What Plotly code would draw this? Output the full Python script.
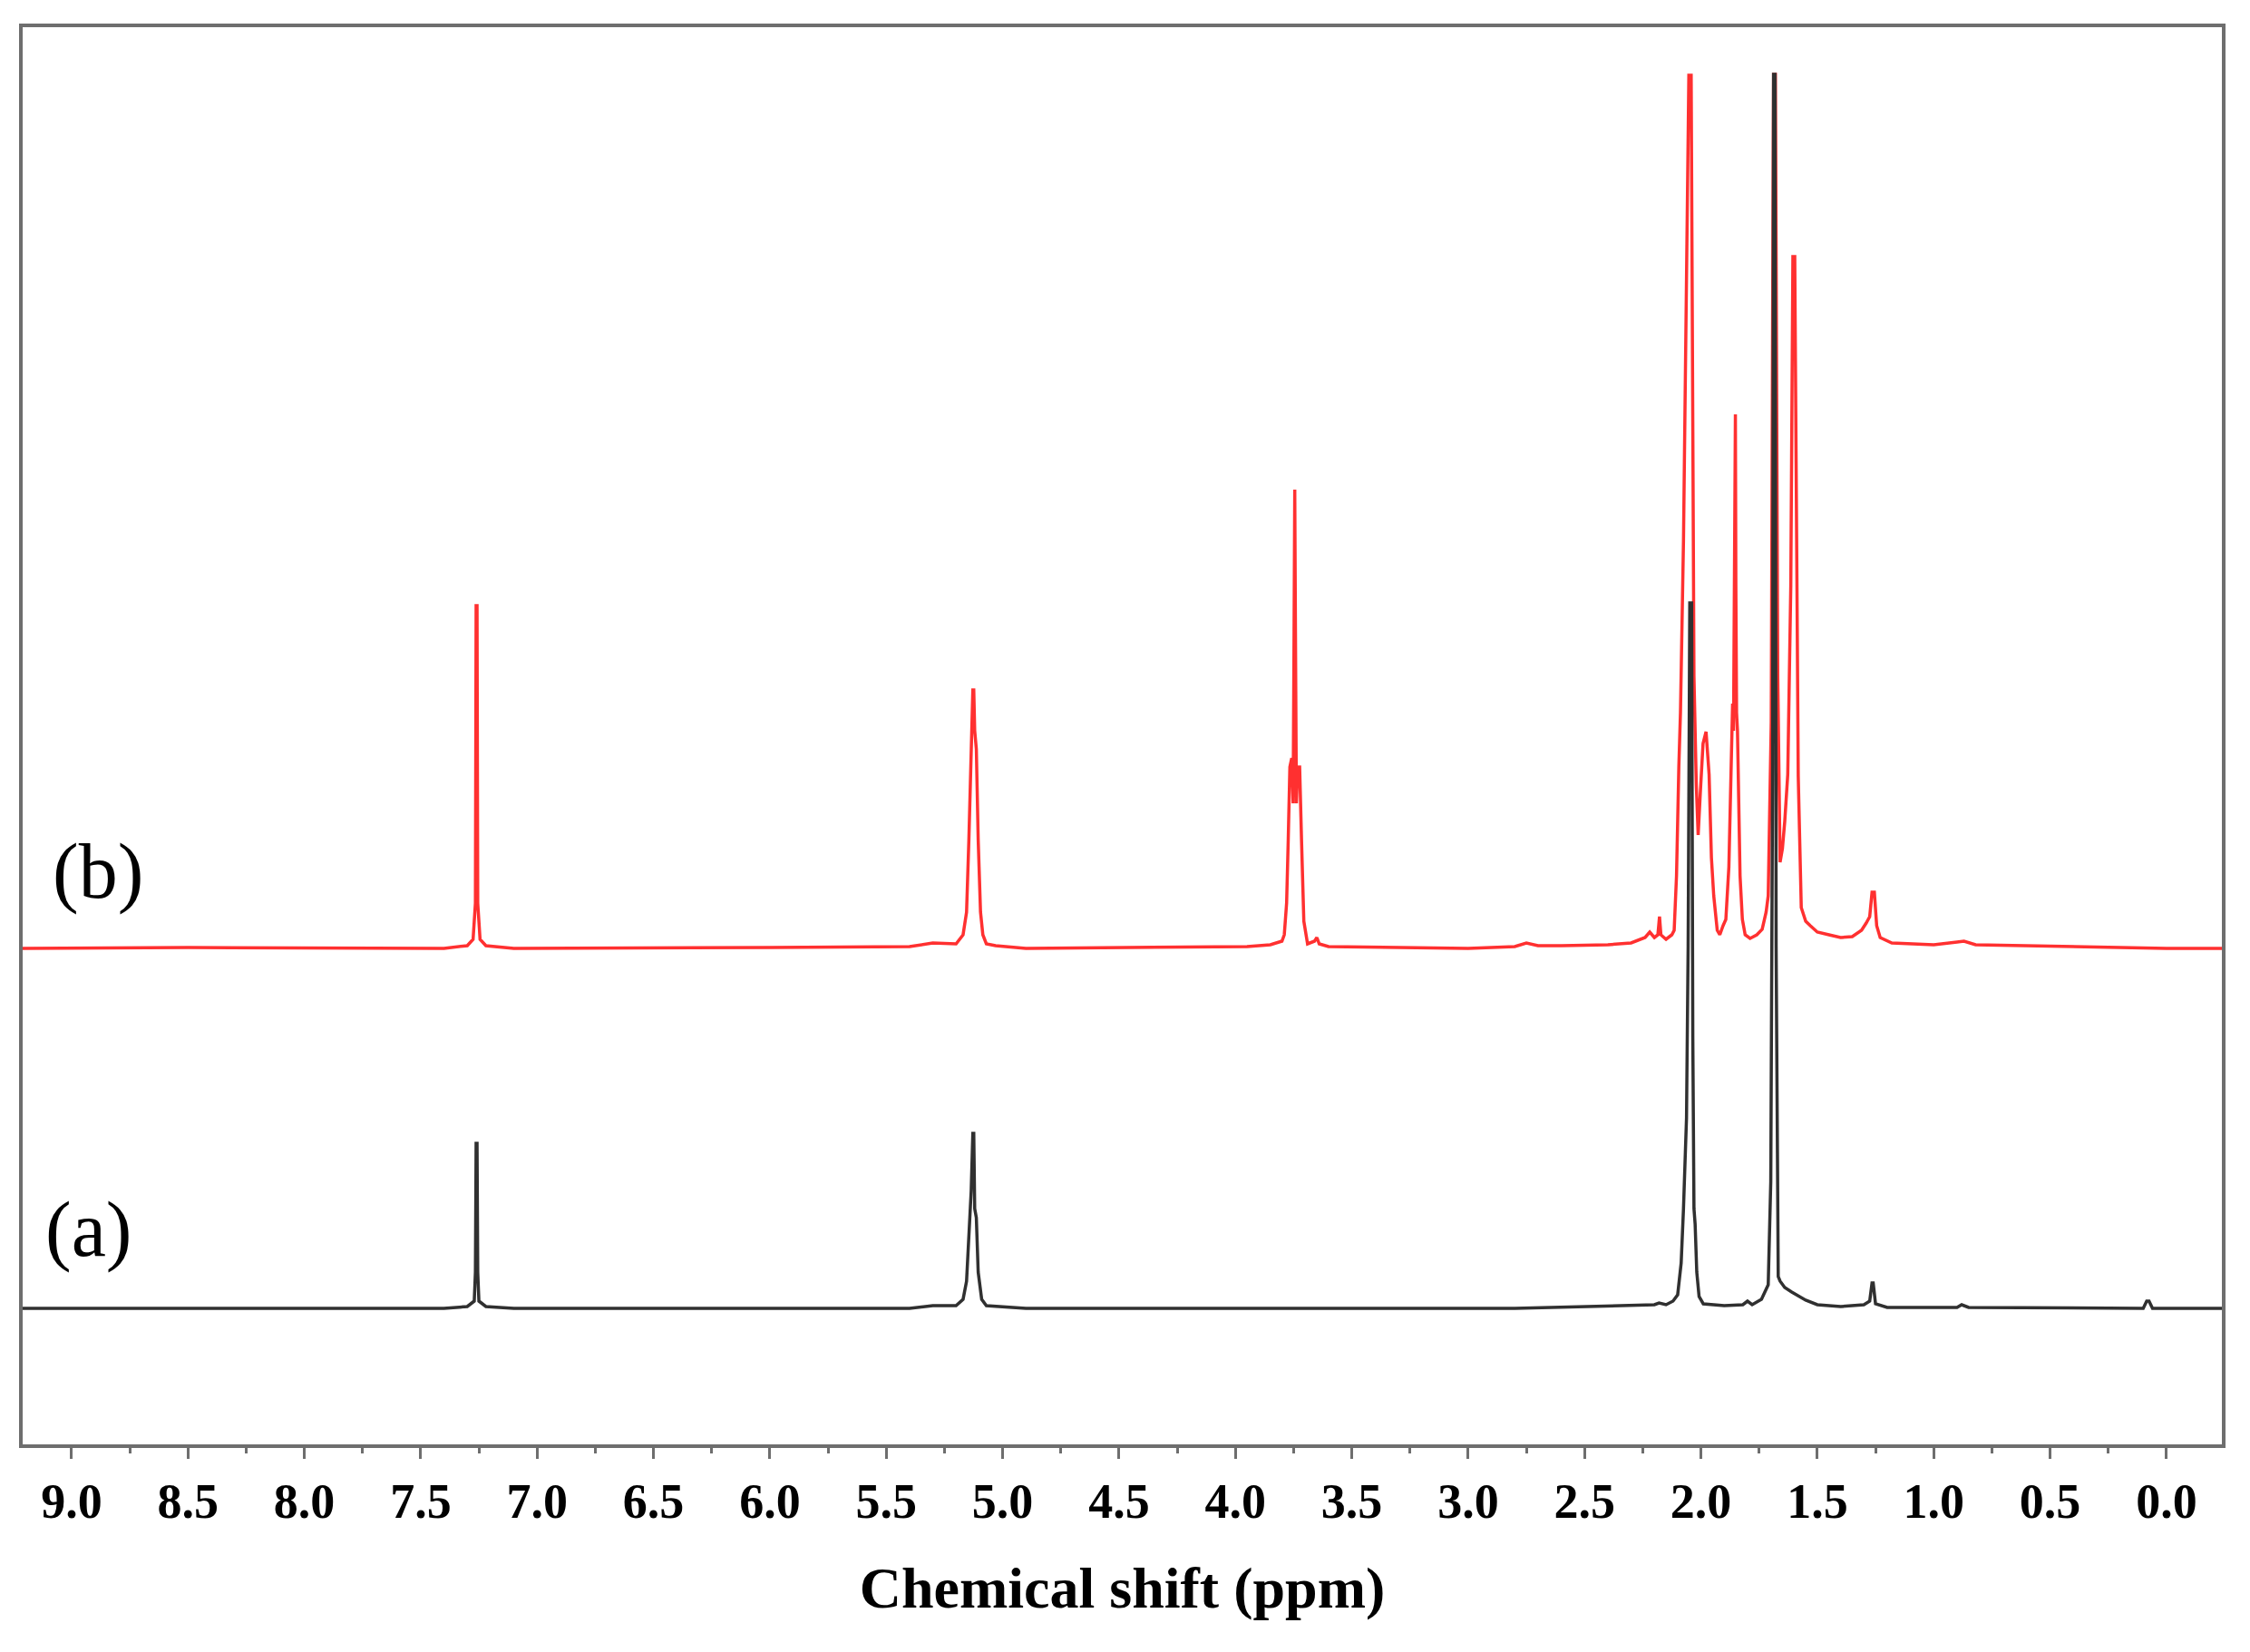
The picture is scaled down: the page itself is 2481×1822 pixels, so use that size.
import plotly.graph_objects as go

# spectrum (b) - red (ppm, intensity above its baseline)
ppm_b = [9.21, 8.50, 7.40, 7.30, 7.275, 7.265, 7.262, 7.258, 7.255, 7.245, 7.22, 7.10,
         6.00, 5.40, 5.30, 5.20, 5.17, 5.155, 5.145, 5.135, 5.128, 5.124, 5.12, 5.113,
         5.105, 5.095, 5.085, 5.07, 5.03, 4.90, 3.95, 3.85, 3.80, 3.79, 3.78, 3.773,
         3.766, 3.758, 3.752, 3.748, 3.745, 3.742, 3.738, 3.732, 3.724, 3.716, 3.706, 3.69,
         3.66, 3.65, 3.64, 3.60, 3.00, 2.80, 2.75, 2.70, 2.60, 2.40, 2.30, 2.24, 2.22,
         2.20, 2.185, 2.178, 2.172, 2.15, 2.125, 2.115, 2.105, 2.095, 2.088, 2.075,
         2.062, 2.052, 2.042, 2.036, 2.03, 2.02, 2.012, 2.003, 1.991, 1.978, 1.965,
         1.955, 1.945, 1.93, 1.919, 1.905, 1.893, 1.880, 1.870, 1.864, 1.860, 1.857,
         1.855, 1.852, 1.850, 1.847, 1.843, 1.838, 1.832, 1.822, 1.81, 1.789, 1.76,
         1.737, 1.72, 1.711, 1.698, 1.692, 1.688, 1.680, 1.670, 1.660, 1.650, 1.640,
         1.627, 1.614, 1.605, 1.597, 1.588, 1.582, 1.569, 1.55, 1.53, 1.50, 1.45, 1.40,
         1.35, 1.31, 1.29, 1.275, 1.265, 1.255, 1.245, 1.23, 1.18, 1.00, 0.90, 0.87,
         0.82, 0.50, 0.20, 0.00, -0.24]
int_b = [0, 0.1, 0, 0.3, 1.0, 5, 37.8, 37.8, 5, 1.0, 0.3, 0,
         0.1, 0.2, 0.6, 0.5, 1.5, 4, 12, 24, 28.5, 28.5, 24, 22,
         12, 4, 1.5, 0.5, 0.3, 0, 0.2, 0.4, 0.8, 1.5, 5, 12,
         20, 21, 16, 35, 50.6, 35, 16, 20, 20, 12, 3, 0.5,
         0.8, 1.2, 0.5, 0.2, 0, 0.2, 0.6, 0.3, 0.3, 0.4, 0.6, 1.2, 1.8,
         1.2, 1.5, 3.5, 1.5, 1.0, 1.5, 2, 8, 20, 26, 45,
         75, 96.3, 96.3, 60, 30, 18, 12.5, 17, 22.6, 23.9, 19.2,
         10, 5.8, 2, 1.5, 2.5, 3.2, 9, 22, 27, 24, 45,
         58.9, 58.9, 40, 26, 24, 15, 8, 3.2, 1.5, 1.1, 1.5,
         2.1, 4, 5.8, 25, 70, 96.4, 96.4, 30, 9.5, 11, 14,
         19.2, 40, 76.3, 76.3, 40, 19, 4.5, 3, 2.5, 1.8, 1.5, 1.2,
         1.3, 2.0, 2.8, 3.5, 6.2, 6.2, 2.5, 1.2, 0.6, 0.4, 0.7, 0.8,
         0.4, 0.2, 0.1, 0, 0]

# spectrum (a) - black
ppm_a = [9.21, 7.40, 7.30, 7.27, 7.265, 7.262, 7.258, 7.255, 7.25, 7.22, 7.10,
         5.40, 5.30, 5.20, 5.17, 5.155, 5.145, 5.135, 5.128, 5.124, 5.12, 5.113,
         5.105, 5.09, 5.07, 4.90, 2.80, 2.30, 2.20, 2.18, 2.15, 2.12, 2.10, 2.085,
         2.075, 2.062, 2.055, 2.048, 2.040, 2.035, 2.03, 2.025, 2.018, 2.008, 1.99,
         1.90, 1.82, 1.80, 1.78, 1.74, 1.72, 1.711, 1.70, 1.692, 1.688, 1.682, 1.677,
         1.672, 1.668, 1.66, 1.64, 1.61, 1.58, 1.55, 1.50, 1.40, 1.30, 1.275, 1.265,
         1.26, 1.25, 1.20, 0.90, 0.88, 0.85, 0.10, 0.085, 0.075, 0.06, -0.24]
int_a = [0, 0, 0.2, 0.8, 4, 18.2, 18.2, 4, 0.8, 0.2, 0,
         0, 0.3, 0.3, 1, 3, 8, 13, 19.3, 19.3, 11, 10,
         4, 1, 0.3, 0, 0, 0.3, 0.4, 0.6, 0.4, 0.8, 1.5, 5,
         11, 21, 40, 77.8, 77.8, 30, 11, 9.3, 4, 1.3, 0.5,
         0.3, 0.4, 0.8, 0.4, 1, 2, 2.6, 14, 60, 136.1, 136.1, 40,
         8, 3.5, 3, 2.3, 1.8, 1.3, 0.9, 0.4, 0.2, 0.4, 0.8, 2.8,
         2.8, 0.5, 0.1, 0.1, 0.4, 0.1, 0, 0.8, 0.8, 0, 0]

# vertical offsets of the stacked spectra
offset_a = 15.0
offset_b = 54.7

fig = go.Figure()
fig.add_trace(go.Scatter(x=ppm_b, y=[v + offset_b for v in int_b], mode='lines',
                         line=dict(color='#ff3030', width=3.5), name='(b)'))
fig.add_trace(go.Scatter(x=ppm_a, y=[v + offset_a for v in int_a], mode='lines',
                         line=dict(color='#303030', width=3.5), name='(a)'))

# labels of the spectra
fig.add_annotation(x=8.887, y=63.2, text='(b)', showarrow=False,
                   font=dict(family='Liberation Serif', size=86, color='black'))
fig.add_annotation(x=8.926, y=23.7, text='(a)', showarrow=False,
                   font=dict(family='Liberation Serif', size=86, color='black'))

frame = '#6e6e6e'
# margins allow for the 8px body margin of the html page
fig.update_layout(
    width=2481, height=1822,
    margin=dict(l=17, r=39, t=22, b=237),
    paper_bgcolor='white', plot_bgcolor='white',
    showlegend=False,
    xaxis=dict(range=[9.21, -0.238], dtick=0.5, tick0=0, tickformat='.1f',
               ticks='outside', ticklen=12, tickwidth=3, tickcolor=frame,
               minor=dict(dtick=0.25, ticks='outside', ticklen=6, tickwidth=3, tickcolor=frame),
               showline=True, linecolor=frame, linewidth=4, mirror=True,
               showgrid=False, zeroline=False,
               tickfont=dict(family='Liberation Serif', size=54, color='black', weight='bold'),
               title=dict(text='Chemical shift (ppm)', standoff=44,
                          font=dict(family='Liberation Serif', size=64, color='black', weight='bold'))),
    yaxis=dict(range=[0, 156.3], showticklabels=False, ticks='',
               showline=True, linecolor=frame, linewidth=4, mirror=True,
               showgrid=False, zeroline=False),
)

fig.write_html("out.html")
